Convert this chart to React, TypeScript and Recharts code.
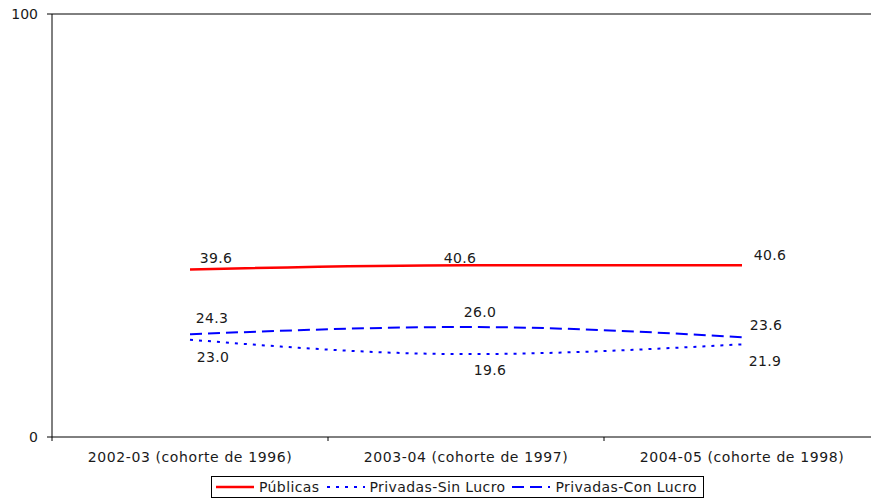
import React from 'react';
import { LineChart, Line, XAxis, YAxis, ReferenceLine, LabelList, Legend } from 'recharts';

// categories and series
const categories = ['2002-03 (cohorte de 1996)', '2003-04 (cohorte de 1997)', '2004-05 (cohorte de 1998)'];
const publicas = [39.6, 40.6, 40.6];
const sinLucro = [23.0, 19.6, 21.9];
const conLucro = [24.3, 26.0, 23.6];
const yTicks = [0, 100];

const FONT = '"DejaVu Sans", Verdana, sans-serif';
const TEXT = '#1a1a1a';

// x is numeric so category boundaries can carry the tick marks
const data = categories.map((name, i) => ({
    x: i + 0.5,
    name,
    publicas: publicas[i],
    sinLucro: sinLucro[i],
    conLucro: conLucro[i],
}));

// label offsets from each point, per series
const labelOffsets: any = {
    publicas: [
        [26, -11],
        [-6, -7],
        [28, -10],
    ],
    conLucro: [
        [22, -16],
        [14, -15],
        [24, -12],
    ],
    sinLucro: [
        [23, 17],
        [24, 16],
        [23, 17],
    ],
};

const makeLabel = (key: string) => (props: any) => {
    const { x, y, value, index } = props;
    const [dx, dy] = labelOffsets[key][index];
    return (
        <text
            x={x + dx}
            y={y + dy}
            textAnchor="middle"
            dominantBaseline="central"
            fontFamily={FONT}
            fontSize={14}
            letterSpacing={0.3}
            fill={TEXT}
        >
            {Number(value).toFixed(1)}
        </text>
    );
};

const XTick = (props: any) => {
    const { x, y, payload } = props;
    const v = payload.value;
    if (Number.isInteger(v)) {
        return <line x1={x} y1={y} x2={x} y2={y + 4} stroke="#000" />;
    }
    return (
        <text
            x={x}
            y={y + 20}
            textAnchor="middle"
            dominantBaseline="central"
            fontFamily={FONT}
            fontSize={14}
            letterSpacing={0.6}
            fill={TEXT}
        >
            {categories[Math.floor(v)]}
        </text>
    );
};

const legendItems = [
    { name: 'Públicas', color: '#ff0000', dash: undefined, width: 2.5 },
    { name: 'Privadas-Sin Lucro', color: '#0000ff', dash: '3 6', width: 2 },
    { name: 'Privadas-Con Lucro', color: '#0000ff', dash: '12 6', width: 2 },
];

const LegendBox = () => (
    <div
        style={{
            display: 'flex',
            alignItems: 'center',
            border: '1px solid #000',
            height: 20,
            padding: '0 6px 0 4px',
            fontFamily: FONT,
            fontSize: 14,
            letterSpacing: 0.4,
            color: TEXT,
            whiteSpace: 'nowrap',
            background: '#fff',
        }}
    >
        {legendItems.map((item, i) => (
            <div key={item.name} style={{ display: 'flex', alignItems: 'center', marginLeft: i ? 7 : 0 }}>
                <svg width={38} height={10} style={{ marginRight: 5 }}>
                    <line
                        x1={0}
                        y1={5}
                        x2={38}
                        y2={5}
                        stroke={item.color}
                        strokeWidth={item.width}
                        strokeDasharray={item.dash}
                    />
                </svg>
                <span>{item.name}</span>
            </div>
        ))}
    </div>
);

const App = () => {
    return (
        <div style={{ position: 'absolute', left: 0, top: 0, width: 871, height: 499, overflow: 'hidden', background: '#fff' }}>
            <LineChart width={890} height={499} data={data} margin={{ top: 14, right: 10, left: 0, bottom: 32 }}>
                <XAxis
                    dataKey="x"
                    type="number"
                    domain={[0, 3]}
                    ticks={[0, 0.5, 1, 1.5, 2, 2.5, 3]}
                    interval={0}
                    tickLine={false}
                    tickSize={0}
                    tickMargin={0}
                    height={30}
                    axisLine={{ stroke: '#000' }}
                    tick={<XTick />}
                />
                <YAxis
                    type="number"
                    domain={[0, 100]}
                    ticks={yTicks}
                    width={52}
                    tickSize={5}
                    tickMargin={9}
                    axisLine={{ stroke: '#000' }}
                    tickLine={{ stroke: '#000' }}
                    tick={{ fontFamily: FONT, fontSize: 14, fill: TEXT }}
                />
                <ReferenceLine y={100} stroke="#000" />
                <Line
                    type="monotone"
                    dataKey="publicas"
                    stroke="#ff0000"
                    strokeWidth={2.5}
                    dot={false}
                    isAnimationActive={false}
                >
                    <LabelList dataKey="publicas" content={makeLabel('publicas')} />
                </Line>
                <Line
                    type="monotone"
                    dataKey="sinLucro"
                    stroke="#0000ff"
                    strokeWidth={2}
                    strokeDasharray="3 6"
                    dot={false}
                    isAnimationActive={false}
                >
                    <LabelList dataKey="sinLucro" content={makeLabel('sinLucro')} />
                </Line>
                <Line
                    type="monotone"
                    dataKey="conLucro"
                    stroke="#0000ff"
                    strokeWidth={2}
                    strokeDasharray="12 6"
                    dot={false}
                    isAnimationActive={false}
                >
                    <LabelList dataKey="conLucro" content={makeLabel('conLucro')} />
                </Line>
                <Legend
                    layout="horizontal"
                    verticalAlign="middle"
                    align="center"
                    content={<LegendBox />}
                    wrapperStyle={{ left: 211, top: 476, width: 'auto' }}
                />
            </LineChart>
        </div>
    );
};

export default App;
